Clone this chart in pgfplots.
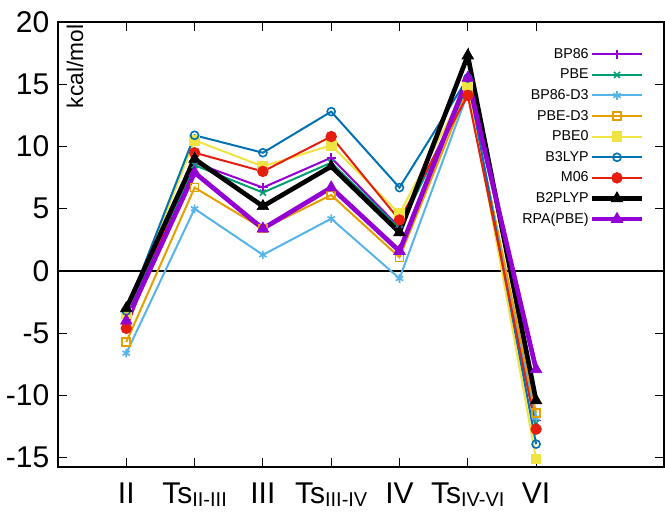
\documentclass[border=0pt]{standalone}
\usepackage{fontspec}
\setmainfont{Liberation Sans}
\usepackage{pgfplots}
\pgfplotsset{compat=1.18}
\definecolor{cviolet}{HTML}{9400D3}
\definecolor{cgreen}{HTML}{009E73}
\definecolor{csky}{HTML}{56B4E9}
\definecolor{corange}{HTML}{E69F00}
\definecolor{cyellow}{HTML}{F0E442}
\definecolor{cblue}{HTML}{0072B2}
\definecolor{cred}{HTML}{E51E10}
\newcommand{\sub}[1]{\raisebox{-2.6pt}{\fontsize{15}{17}\selectfont #1}}
\begin{document}
\begin{tikzpicture}
\begin{axis}[
  scale only axis,
  width=454.5pt, height=333.75pt,
  xmin=-1, xmax=7.873,
  ymin=-15.74, ymax=20,
  axis line style={line width=0.8pt},
  tick align=inside,
  major tick length=7pt,
  tick style={black, line width=0.6pt},
  xtick={0,1,2,3,4,5,6},
  xticklabels={II, Ts\sub{II-III}, III, Ts\sub{III-IV}, IV, Ts\sub{IV-VI}, VI},
  ytick={-15,-10,-5,0,5,10,15,20},
  yticklabels={-15,-10,-5,0,5,10,15,20},
  ticklabel style={font=\fontsize{22.5}{26}\selectfont},
  xticklabel style={yshift=-9pt, text height=16pt, inner sep=2pt},
  yticklabel style={xshift=-3pt},
  /pgf/number format/assume math mode=true,
  legend plot pos=right,
  legend cell align=right,
  legend style={draw=none, fill=none, at={(rel axis cs:0.974,0.952)}, anchor=north east,
    font=\fontsize{10.7}{12}\selectfont, row sep=3.45pt,
    nodes={inner sep=1pt, text height=8pt, text depth=2pt}},
  legend image code/.code={\draw[mark repeat=2, mark phase=2] plot coordinates {(0cm,0cm) (0.65cm,0cm) (1.3cm,0cm)};},
]
\addplot[black, line width=1.3pt, forget plot] coordinates {(-1,0) (7.873,0)};
\addplot[cviolet, line width=1.5pt, mark=+, mark size=3.5pt, mark options={line width=1.2pt}] coordinates {
(0,-3.6) (1,8.7) (2,6.7) (3,9.1) (4,3.5) (5,14.8) (6,-12.0)};
\addlegendentry{BP86}
\addplot[cgreen, line width=1.5pt, mark=x, mark size=3.2pt, mark options={line width=1.2pt}] coordinates {
(0,-3.7) (1,8.5) (2,6.3) (3,8.7) (4,3.4) (5,14.7) (6,-12.2)};
\addlegendentry{PBE}
\addplot[csky, line width=1.5pt, mark=asterisk, mark size=3.2pt, mark options={line width=1.2pt}] coordinates {
(0,-6.6) (1,5.0) (2,1.3) (3,4.2) (4,-0.6) (5,14.3) (6,-11.8)};
\addlegendentry{BP86-D3}
\addplot[corange, line width=1.5pt, mark=square, mark size=3pt, mark options={line width=1.2pt}] coordinates {
(0,-5.7) (1,6.7) (2,3.4) (3,6.1) (4,1.1) (5,14.6) (6,-11.4)};
\addlegendentry{PBE-D3}
\addplot[cyellow, line width=1.5pt, mark=square*, mark size=3.3pt] coordinates {
(0,-3.4) (1,10.5) (2,8.4) (3,10.1) (4,4.6) (5,15.0) (6,-15.1)};
\addlegendentry{PBE0}
\addplot[cblue, line width=1.5pt, mark=o, mark size=3pt, mark options={line width=1.2pt}] coordinates {
(0,-3.2) (1,10.9) (2,9.5) (3,12.8) (4,6.7) (5,15.5) (6,-13.9)};
\addlegendentry{B3LYP}
\addplot[cred, line width=1.5pt, mark=*, mark size=3.5pt] coordinates {
(0,-4.6) (1,9.5) (2,8.0) (3,10.8) (4,4.1) (5,14.1) (6,-12.7)};
\addlegendentry{M06}
\addplot[black, line width=3.5pt, mark=triangle*, mark size=5pt, mark options={line width=0.5pt}] coordinates {
(0,-3.0) (1,9.0) (2,5.2) (3,8.4) (4,3.1) (5,17.3) (6,-10.4)};
\addlegendentry{B2PLYP}
\addplot[cviolet, line width=3.5pt, mark=triangle*, mark size=5pt, mark options={line width=0.5pt}] coordinates {
(0,-4.0) (1,7.9) (2,3.4) (3,6.7) (4,1.6) (5,15.5) (6,-7.9)};
\addlegendentry{RPA(PBE)}
\node[rotate=90, anchor=east, inner sep=2pt, font=\fontsize{17}{20}\selectfont] at (rel axis cs:0.028,1) {kcal/mol};
\coordinate (bl) at (rel axis cs:0,0);
\coordinate (tr) at (rel axis cs:1,1);
\end{axis}
\pgfresetboundingbox
\useasboundingbox ([xshift=-43.5pt, yshift=-37.5pt]bl) rectangle ([xshift=0.75pt, yshift=16.5pt]tr);
\end{tikzpicture}
\end{document}
